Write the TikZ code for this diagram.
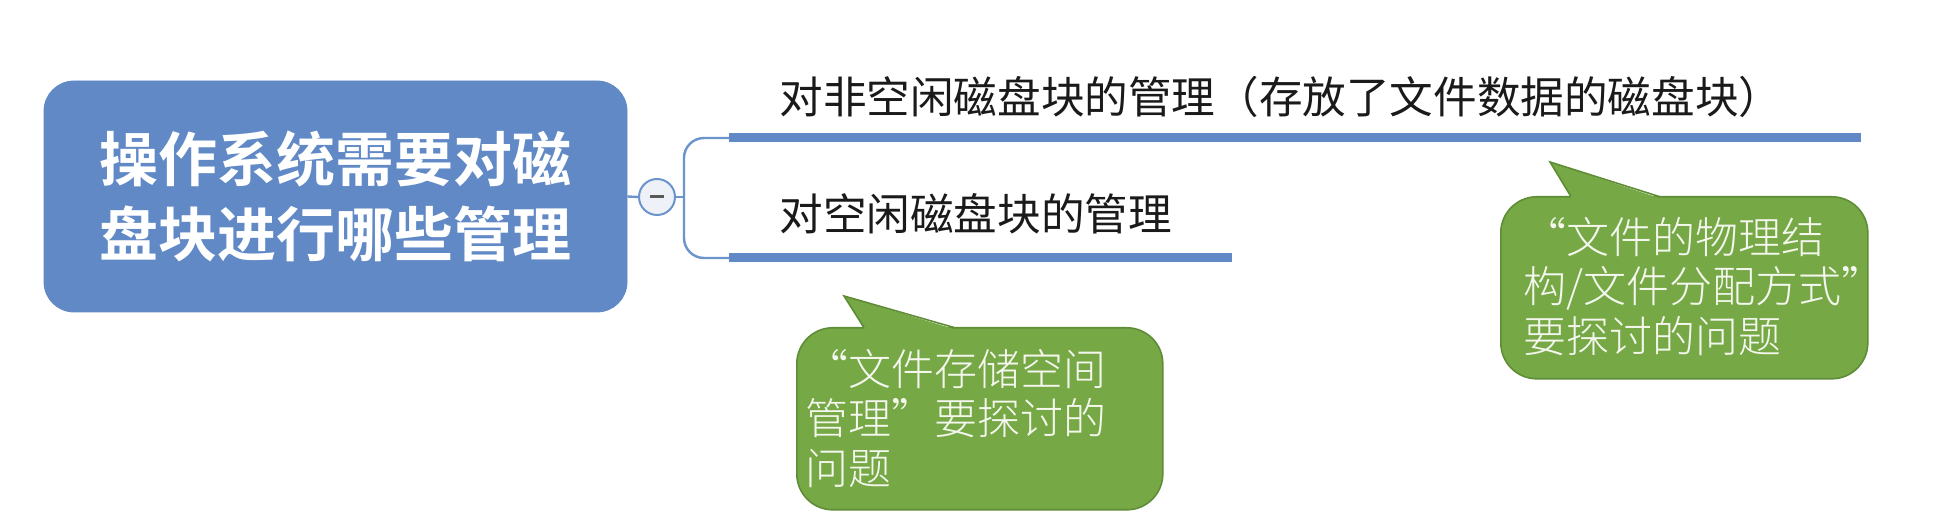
\documentclass[tikz,border=0pt]{standalone}
\usepackage{fontspec}
\newfontfamily\cjk[BoldFont={Noto Sans CJK SC Bold}]{Noto Sans CJK SC}
\newfontfamily\cjkthin{Noto Sans CJK SC Light}
\usetikzlibrary{positioning}
\definecolor{topicblue}{HTML}{6089C6}
\definecolor{branchblue}{HTML}{6B94CD}
\definecolor{notegreen}{HTML}{77A846}
\definecolor{noteedge}{HTML}{5F8C36}
\definecolor{togglefill}{HTML}{EEF1F7}
\definecolor{ink}{HTML}{1A1A1A}
\definecolor{notewhite}{HTML}{F4F7EE}
\tikzset{
  root/.style={rounded corners=15pt,fill=topicblue,draw=topicblue,text=white,align=center,font=\cjk\bfseries\fontsize{29.5}{37.5}\selectfont},
  toggle/.style={circle,draw=branchblue,line width=1pt,fill=togglefill,minimum size=18pt,inner sep=0pt},
  branch/.style={draw=branchblue,line width=1.2pt},
  bar/.style={draw=topicblue,line width=4.5pt},
  topic/.style={font=\cjk\fontsize{21.8}{26}\selectfont,text=ink,inner sep=0pt,anchor=west},
  note/.style={rounded corners=18pt,fill=notegreen,draw=noteedge,line width=0.8pt,anchor=north west},
  notetext/.style={font=\cjkthin\fontsize{21.5}{24.7}\selectfont,text=notewhite,align=left,inner sep=0pt,anchor=north west},
  tail/.style={draw=noteedge,line width=0.8pt}
}

\begin{document}
\begin{tikzpicture}[x=0.5pt,y=-0.5pt]
\fill[white] (0,0) rectangle (1955,528);
\useasboundingbox (0,0) rectangle (1955,528);

% central topic and its toggle
\node[root,minimum width=291.5pt,minimum height=115.5pt] (root) at (335.5,196.5) {操作系统需要对磁\\盘块进行哪些管理};
\node[toggle,path picture={\draw[line width=1.5pt,black!65] ([xshift=-3.5pt]path picture bounding box.center) -- ([xshift=3.5pt]path picture bounding box.center);}] (toggle) at (657,197) {};
\coordinate (fork) at (684,197);

% the two subtopics
\node[topic] (used) at (779,97) {对非空闲磁盘块的管理（存放了文件数据的磁盘块）};
\node[topic] (free) at (779,214) {对空闲磁盘块的管理};
\coordinate (usedbar) at (729,138);
\coordinate (usedend) at (1861,138);
\coordinate (freebar) at (729,258);
\coordinate (freeend) at (1232,258);

\draw[branch] (root.east) -- (toggle.west);
\draw[branch] (toggle.east) -- (fork);
\draw[branch,rounded corners=10pt] (fork) |- (usedbar);
\draw[branch,rounded corners=10pt] (fork) |- (freebar);
\draw[bar] (usedbar) -- (usedend);
\draw[bar] (freebar) -- (freeend);

% callouts
\node[note,minimum width=183pt,minimum height=91pt] (storenote) at (796,327) {};
\coordinate (storetip) at (844,296);
\fill[notegreen] (864,329) -- (storetip) -- (954,329) -- cycle;
\draw[tail] (864,327.5) -- (storetip) -- (954,327.5);
\node[notetext] (storetext) at (805,349) {“文件存储空间\\管理”要探讨的\\问题};

\node[note,minimum width=183.5pt,minimum height=91pt] (layoutnote) at (1500,196) {};
\coordinate (layouttip) at (1550,162);
\fill[notegreen] (1571,198) -- (layouttip) -- (1659,198) -- cycle;
\draw[tail] (1571,196.5) -- (layouttip) -- (1659,196.5);
\node[notetext] (layouttext) at (1523,217) {“文件的物理结\\构/文件分配方式”\\要探讨的问题};
\end{tikzpicture}
\end{document}
